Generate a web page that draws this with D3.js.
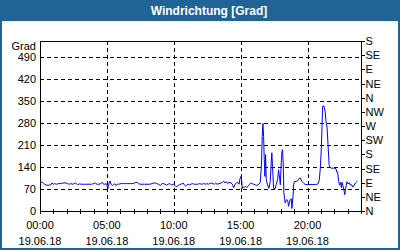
<!DOCTYPE html>
<html>
<head>
<meta charset="utf-8">
<script src="https://cdn.jsdelivr.net/npm/d3@7"></script>
<style>
  html, body { margin: 0; padding: 0; background: #fff; }
  svg text { font-family: "Liberation Sans", Arial, sans-serif; }
</style>
</head>
<body>
<div id="chart"></div>
<script>
// minutes since 00:00 on 19.06.18
const minutes = [
  0, 12, 21, 30, 39, 48, 54, 60, 66, 73, 84, 96, 108, 117, 123, 132, 138, 147, 153, 159, 168, 177, 186, 201, 216, 231, 240, 249, 255, 264, 273, 279, 285, 291, 297,
  300, 304, 307, 310, 314, 319, 325, 329, 334, 340, 346, 352, 364, 376, 388, 400, 412, 424, 430, 436, 442, 449, 469, 493, 502, 511, 517, 524, 531, 540, 547, 554, 561, 569, 574, 580, 585, 591, 599,
  608, 614, 620, 626, 632, 638, 642, 647, 653, 659, 665, 671, 677, 683, 692, 707, 716, 725, 734, 743, 749, 755, 761, 770, 776, 782, 788, 794, 803, 812, 818, 824, 830, 836, 842, 848, 857, 863, 869, 875, 881, 887, 893, 897, 902, 905,
  907, 910, 916, 922, 928, 934, 940, 946, 952, 958, 967, 973, 982, 988, 993, 997, 1000, 1003, 1006, 1009, 1012, 1015, 1021, 1027, 1033, 1037, 1040, 1043, 1048, 1054, 1060, 1066, 1070, 1075, 1078, 1081, 1085, 1088, 1091, 1094, 1097, 1100, 1105, 1111, 1115, 1120, 1123, 1127, 1130, 1135, 1138, 1141, 1150, 1156, 1162,
  1168, 1175, 1183, 1190, 1205, 1220, 1235, 1247, 1253, 1258, 1262, 1265, 1268, 1274, 1279, 1283, 1288, 1292, 1297, 1301, 1307, 1315, 1322, 1328, 1331, 1335, 1340, 1344, 1349, 1352, 1355, 1358, 1362, 1367, 1371, 1377, 1382, 1388, 1392, 1397, 1403, 1409, 1415, 1424
];
const windDir = [
  92, 91, 85, 82, 82, 83, 89, 85, 87, 85, 87, 88, 89, 89, 87, 85, 87, 85, 87, 89, 84, 86, 85, 85, 85, 85, 87, 89, 85, 85, 87, 91, 85, 85, 87,
  83, 70, 79, 89, 95, 85, 81, 83, 87, 81, 85, 85, 87, 87, 87, 87, 87, 89, 91, 91, 87, 85, 85, 85, 87, 89, 89, 87, 85, 81, 87, 87, 85, 82, 85, 87, 85, 83, 85,
  79, 77, 82, 83, 85, 87, 89, 83, 79, 83, 85, 83, 85, 87, 85, 85, 87, 85, 87, 85, 87, 85, 87, 89, 87, 85, 89, 85, 87, 89, 91, 95, 89, 93, 87, 91, 89, 85, 74, 85, 89, 91, 85, 102, 110, 95,
  72, 76, 75, 78, 75, 79, 85, 89, 87, 85, 83, 81, 85, 91, 140, 237, 278, 237, 163, 110, 179, 99, 83, 72, 94, 153, 185, 142, 72, 70, 85, 99, 131, 104, 83, 136, 185, 195, 153, 59, 39, 26, 36, 34, 15, 31, 36, 39, 8, 46, 83, 94, 94, 96, 103,
  105, 94, 88, 84, 84, 84, 84, 86, 99, 142, 200, 264, 333, 333, 317, 285, 264, 211, 147, 139, 136, 136, 136, 134, 124, 124, 93, 82, 91, 74, 91, 82, 73, 52, 71, 93, 86, 90, 82, 84, 76, 82, 89, 95
];

const title = 'Windrichtung [Grad]';
const yUnit = 'Grad';
const yTicks = [0, 70, 140, 210, 280, 350, 420, 490];
const compassTicks = [0, 45, 90, 135, 180, 225, 270, 315, 360, 405, 450, 495, 540];
const compassLabels = ['N', 'NE', 'E', 'SE', 'S', 'SW', 'W', 'NW', 'N', 'NE', 'E', 'SE', 'S'];
const hourTicks = d3.range(0, 1441, 60);
const labelTicks = [0, 300, 600, 900, 1200];
const timeLabels = ['00:00', '05:00', '10:00', '15:00', '20:00'];
const dateLabel = '19.06.18';

const W = 400, H = 250;
const blue = '#1f6397';
const plotL = 40, plotR = 361, plotT = 41, plotB = 211;

const svg = d3.select('#chart').append('svg')
  .attr('width', W).attr('height', H);

// frame + title bar
svg.append('rect').attr('x', 1).attr('y', 1).attr('width', W - 2).attr('height', H - 2)
  .attr('fill', '#fff').attr('stroke', blue).attr('stroke-width', 2);
svg.append('rect').attr('x', 0).attr('y', 0).attr('width', W).attr('height', 21).attr('fill', blue);
svg.append('text').attr('x', 209).attr('y', 15).attr('text-anchor', 'middle')
  .attr('fill', '#fff').attr('font-size', 12).attr('font-weight', 'bold').text(title);

const x = d3.scaleLinear().domain([0, 1440]).range([plotL, plotR]);
const y = d3.scaleLinear().domain([0, 540]).range([plotB, plotT]);

const g = svg.append('g').attr('shape-rendering', 'crispEdges');

// dashed grid
g.selectAll('line.hgrid').data(yTicks.filter(d => d > 0)).enter().append('line')
  .attr('x1', plotL).attr('x2', plotR)
  .attr('y1', d => Math.round(y(d)) + 0.5).attr('y2', d => Math.round(y(d)) + 0.5)
  .attr('stroke', '#000').attr('stroke-dasharray', '4,3');
g.selectAll('line.vgrid').data(labelTicks.filter(d => d > 0)).enter().append('line')
  .attr('x1', d => Math.round(x(d)) + 0.5).attr('x2', d => Math.round(x(d)) + 0.5)
  .attr('y1', plotT).attr('y2', plotB)
  .attr('stroke', '#000').attr('stroke-dasharray', '4,3');

// bottom axis: hourly ticks, labels every 5 hours
const xAxis = d3.axisBottom(x).tickValues(hourTicks).tickSize(-3).tickFormat('');
const gx = svg.append('g').attr('transform', `translate(0,${plotB + 0.5})`)
  .attr('shape-rendering', 'crispEdges').call(xAxis);
gx.select('.domain').remove();
gx.selectAll('.tick line').attr('y2', 2).attr('y1', -3).attr('stroke', '#000');

labelTicks.forEach((t, i) => {
  svg.append('text').attr('x', x(t)).attr('y', 229).attr('text-anchor', 'middle')
    .attr('font-size', 11).attr('fill', '#000').text(timeLabels[i]);
  svg.append('text').attr('x', x(t)).attr('y', 245).attr('text-anchor', 'middle')
    .attr('font-size', 11).attr('fill', '#000').text(dateLabel);
});

// left axis labels
const yAxis = d3.axisLeft(y).tickValues(yTicks).tickSize(0).tickPadding(4);
const gy = svg.append('g').attr('transform', `translate(${plotL},0)`).call(yAxis);
gy.select('.domain').remove();
gy.selectAll('.tick text').attr('font-size', 11).attr('fill', '#000')
  .attr('font-family', '"Liberation Sans", Arial, sans-serif');
svg.append('text').attr('x', 36).attr('y', 50).attr('text-anchor', 'end')
  .attr('font-size', 11).attr('fill', '#000').text(yUnit);

// right compass axis
const yRight = d3.axisRight(y).tickValues(compassTicks).tickSize(3).tickPadding(1)
  .tickFormat((d, i) => compassLabels[i]);
const gr = svg.append('g').attr('transform', `translate(${plotR + 0.5},0)`)
  .attr('shape-rendering', 'crispEdges').call(yRight);
gr.select('.domain').remove();
gr.selectAll('.tick line').attr('stroke', '#000');
gr.selectAll('.tick text').attr('font-size', 11).attr('fill', '#000')
  .attr('font-family', '"Liberation Sans", Arial, sans-serif');

// plot frame
svg.append('rect').attr('x', plotL + 0.5).attr('y', plotT + 0.5)
  .attr('width', plotR - plotL).attr('height', plotB - plotT)
  .attr('fill', 'none').attr('stroke', '#000').attr('shape-rendering', 'crispEdges');

// wind direction line
const line = d3.line().x((d, i) => x(minutes[i])).y(d => y(d));
svg.append('path').datum(windDir)
  .attr('d', line).attr('fill', 'none').attr('stroke', '#0000ff').attr('stroke-width', 1);
</script>
</body>
</html>
